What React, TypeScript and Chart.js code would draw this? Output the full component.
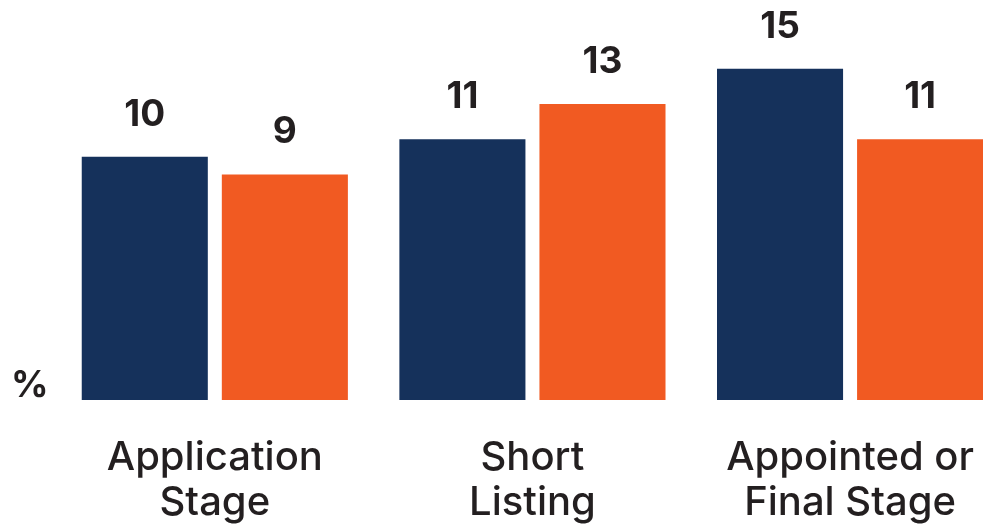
import React, { useEffect, useRef } from "react";
import { Chart, registerables } from "chart.js";

Chart.register(...registerables);

const categories: string[][] = [
  ["Application", "Stage"],
  ["Short", "Listing"],
  ["Appointed or", "Final Stage"],
];
const seriesA: number[] = [10, 11, 15];
const seriesB: number[] = [9, 13, 11];
const unitLabel = "%";

const NAVY = "#15315B";
const ORANGE = "#F15A22";
const TEXT = "#231F20";
const FONT = "Inter";
const AXIS_MIN = -3.8;
const AXIS_MAX = 18.9;

const labelPlugin = {
  id: "valueLabels",
  afterDatasetsDraw(chart: any) {
    const ctx = chart.ctx;
    ctx.save();
    ctx.fillStyle = TEXT;
    ctx.textAlign = "center";
    ctx.textBaseline = "alphabetic";
    ctx.font = `bold 37px ${FONT}`;
    chart.data.datasets.forEach((ds: any, di: number) => {
      const meta = chart.getDatasetMeta(di);
      meta.data.forEach((bar: any, i: number) => {
        ctx.fillText(String(ds.data[i]), bar.x, bar.y - 31);
      });
    });
    ctx.textAlign = "left";
    ctx.font = `bold 37px ${FONT}`;
    const yBase = chart.scales.y.getPixelForValue(AXIS_MIN);
    ctx.fillText(unitLabel, 11, yBase - 3);
    ctx.restore();
  },
};

export default function App() {
  const ref = useRef<HTMLCanvasElement | null>(null);
  useEffect(() => {
    const canvas = ref.current!;
    const chart = new Chart(canvas, {
      type: "bar",
      data: {
        labels: categories,
        datasets: [
          { data: seriesA, backgroundColor: NAVY, base: AXIS_MIN } as any,
          { data: seriesB, backgroundColor: ORANGE, base: AXIS_MIN } as any,
        ],
      },
      options: {
        responsive: false,
        animation: false,
        devicePixelRatio: 1,
        layout: { padding: { left: 56, right: 0, top: 0, bottom: 3 } },
        datasets: { bar: { categoryPercentage: 0.882, barPercentage: 0.9 } },
        plugins: { legend: { display: false }, tooltip: { enabled: false } },
        scales: {
          x: {
            grid: { display: false, drawTicks: false },
            border: { display: false },
            afterFit: (scale: any) => {
              scale.height = 126;
            },
            ticks: {
              color: TEXT,
              padding: 35,
              maxRotation: 0,
              autoSkip: false,
              font: { family: FONT, size: 40, weight: 500 as any, lineHeight: 1.125 },
            },
          },
          y: { display: false, min: AXIS_MIN, max: AXIS_MAX },
        },
      },
      plugins: [labelPlugin],
    });
    return () => chart.destroy();
  }, []);
  return (
    <div
      style={{
        position: "fixed",
        left: 0,
        top: 0,
        width: 983,
        height: 529,
        overflow: "hidden",
        background: "#fff",
      }}
    >
      <canvas ref={ref} width={1009} height={529} style={{ display: "block" }} />
    </div>
  );
}
